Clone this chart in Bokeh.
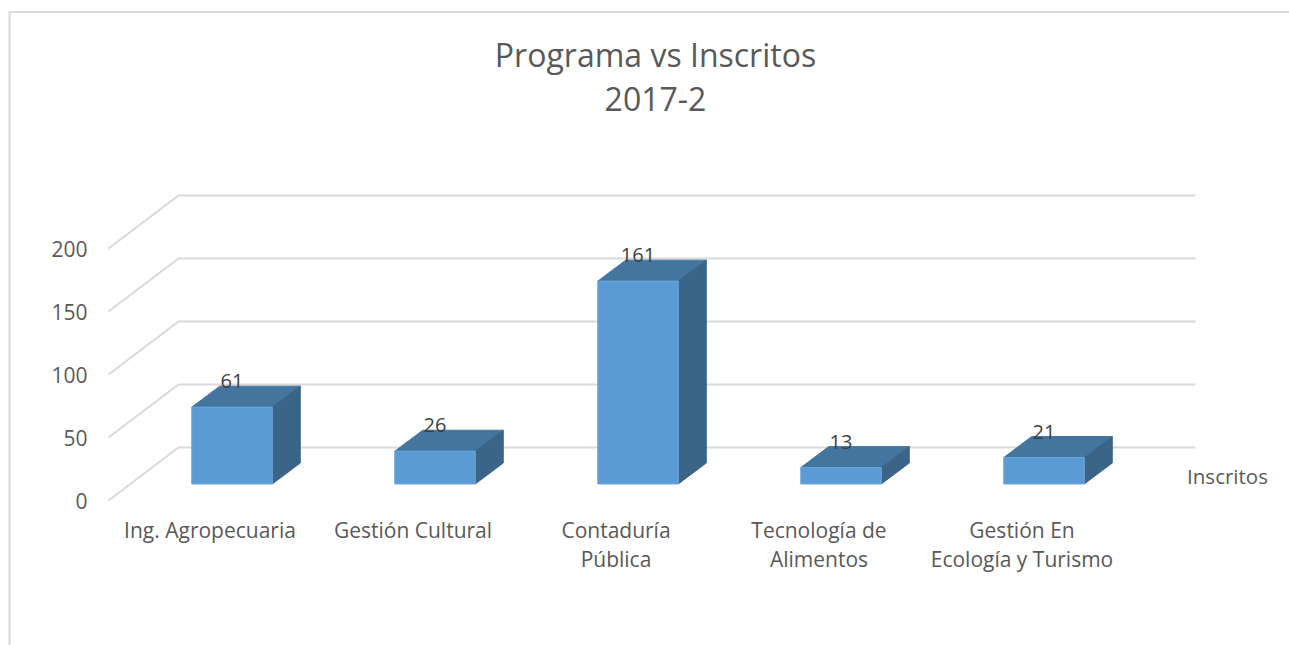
from bokeh.embed import file_html
from bokeh.resources import INLINE
from bokeh.plotting import figure
from bokeh.models import LinearAxis, FixedTicker, Range1d
from bokeh.core.properties import value

programas = ["Ing. Agropecuaria", "Gestión Cultural", "Contaduría\nPública", "Tecnología de\nAlimentos", "Gestión En\nEcología y Turismo"]
inscritos = [61, 26, 161, 13, 21]
y_ticks = [0, 50, 100, 150, 200]
titulo = ["Programa vs Inscritos", "2017-2"]
serie = ["Inscritos"]

FONT = "Open Sans"
W, H = 1289, 645
PX_X = 203.0                # px per category
PX_Y = 1.26                 # px per unit
X0 = 231.5                  # page x of first bar centre
Y0 = 500.0                  # page y of value 0 on the front plane

xd = lambda px: px / PX_X
yd = lambda px: px / PX_Y
xp = lambda px: xd(px - X0)   # page x -> data
yp = lambda py: yd(Y0 - py)   # page y -> data
BAR_W = xd(80.5)
DX, DY = xd(28), yd(21)
FLOOR = yd(16.5)
WALL_DX, WALL_DY = xd(70), yd(53)
WALL_X0 = xp(108)
WALL_X1 = xp(1195)
LABEL_SHIFT = xd(22)

p = figure(width=W, height=H, output_backend="svg", toolbar_location=None,
           x_axis_type=None, y_axis_type=None,
           x_range=Range1d(xp(0), xp(W)), y_range=Range1d(yp(H), yp(0)),
           min_border=0, outline_line_color=None,
           background_fill_color="white", border_fill_color="white")
p.grid.visible = False

# chart border
p.line([xp(9), xp(9), xp(W)], [yp(H), yp(11.5), yp(11.5)], line_color="#d9d9d9", line_width=2)

# walls
GRID = dict(line_color="#d9d9d9", line_width=2)
for t in y_ticks:
    p.line([WALL_X0, WALL_X0 + WALL_DX, WALL_X1], [t, t + WALL_DY, t + WALL_DY], **GRID)

# axes
ya = LinearAxis(fixed_location=xp(104), ticker=FixedTicker(ticks=y_ticks), axis_line_color=None,
                major_tick_line_color=None, minor_tick_line_color=None, major_label_text_font=FONT,
                major_label_text_font_size="21px", major_label_text_color="#595959", major_label_standoff=11)
p.add_layout(ya, "left")

p.extra_x_ranges["labels"] = Range1d(xp(0) + LABEL_SHIFT, xp(W) + LABEL_SHIFT)
xa = LinearAxis(fixed_location=yp(500), x_range_name="labels", ticker=FixedTicker(ticks=list(range(len(programas)))),
                major_label_overrides={i: s for i, s in enumerate(programas)},
                axis_line_color=None, major_tick_line_color=None, minor_tick_line_color=None,
                major_label_text_font=FONT, major_label_text_font_size="21px",
                major_label_text_color="#595959", major_label_standoff=9,
                major_label_text_line_height=1.05)
p.add_layout(xa, "below")

# 3D bars
idx = list(range(len(inscritos)))
xl = [i - BAR_W / 2 for i in idx]
xr = [i + BAR_W / 2 for i in idx]
yb = [FLOOR for _ in idx]
yt = [FLOOR + v for v in inscritos]

p.patches([[a, b, b + DX, a + DX] for a, b in zip(xl, xr)],
          [[t, t, t + DY, t + DY] for t in yt],
          fill_color="#44759f", line_color="#44759f")
p.patches([[b, b + DX, b + DX, b] for b in xr],
          [[c, c + DY, t + DY, t] for c, t in zip(yb, yt)],
          fill_color="#3a6488", line_color="#3a6488")
p.quad(left=xl, right=xr, bottom=yb, top=yt, fill_color="#5b9bd5", line_color="#6ea6da")

# data labels
p.text(x=idx, y=[t + yd(26) for t in yt], text=[str(v) for v in inscritos],
       text_font=value(FONT), text_font_size="20px", text_color="#404040",
       text_align="center", text_baseline="middle")

# series name
p.text(x=[xp(1227)], y=[yp(475)], text=serie, text_font=value(FONT), text_font_size="20.5px",
       text_color="#595959", text_align="center", text_baseline="middle")

# title
p.text(x=[xp(655), xp(655)], y=[yp(54), yp(98.5)], text=titulo, text_font=value(FONT), text_font_size="32px",
       text_color="#595959", text_align="center", text_baseline="middle")

open("out.html", "w").write(file_html(p, INLINE))
